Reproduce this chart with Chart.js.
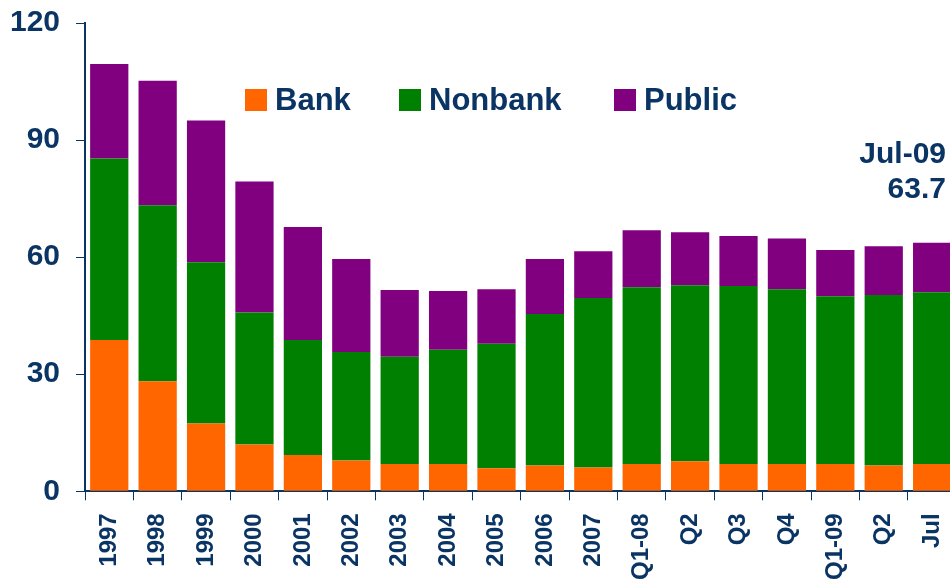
<!DOCTYPE html>
<html>
<head>
<meta charset="utf-8">
<script src="https://cdn.jsdelivr.net/npm/chart.js@4"></script>
<style>
html, body { margin: 0; padding: 0; overflow: hidden; background: #fff; }
#wrap { width: 980px; height: 604px; margin-top: -11px; margin-left: -6px; }
</style>
</head>
<body>
<div id="wrap"><canvas id="chart"></canvas></div>
<script>
var labels = ["1997", "1998", "1999", "2000", "2001", "2002", "2003", "2004", "2005", "2006", "2007",
    "Q1-08", "Q2", "Q3", "Q4", "Q1-09", "Q2", "Jul"];
var bank = [38.8, 28.2, 17.4, 12.0, 9.3, 7.9, 7.0, 7.0, 5.9, 6.6, 6.1, 7.0, 7.7, 7.0, 7.0, 7.0, 6.6, 7.0];
var nonbank = [46.5, 45.1, 41.3, 33.8, 29.5, 27.8, 27.5, 29.3, 31.9, 38.8, 43.4, 45.3, 45.1, 45.6, 44.8, 43.0, 43.7, 44.0];
var publicDebt = [24.2, 31.9, 36.3, 33.6, 28.9, 23.8, 17.1, 15.0, 14.0, 14.1, 12.0, 14.6, 13.6, 12.8, 13.0, 11.8, 12.5, 12.7];
var yTicks = [0, 30, 60, 90, 120];
var noteLines = ["Jul-09", "63.7"];

var navy = "#0a3464";
var fontFamily = "'Liberation Sans', Arial, sans-serif";

// legend and note drawn by hand so they sit inside the plot
// (the wrapper shifts the canvas 6px left and 11px up, add that back)
var extrasPlugin = {
    id: "extras",
    afterDraw: function (chart) {
        var ctx = chart.ctx;
        var dx = 6, dy = 11;
        ctx.save();
        ctx.font = "bold 31px " + fontFamily;
        ctx.textBaseline = "middle";
        var xs = [245, 399, 614];
        chart.data.datasets.forEach(function (ds, i) {
            ctx.fillStyle = ds.backgroundColor;
            ctx.fillRect(xs[i] + dx, 89 + dy, 22, 22);
            ctx.fillStyle = navy;
            ctx.textAlign = "left";
            ctx.fillText(ds.label, xs[i] + 30 + dx, 101 + dy);
        });
        ctx.font = "bold 30px " + fontFamily;
        ctx.textAlign = "right";
        ctx.fillText(noteLines[0], 946 + dx, 155 + dy);
        ctx.fillText(noteLines[1], 946 + dx, 190 + dy);
        ctx.restore();
    }
};

new Chart(document.getElementById("chart"), {
    type: "bar",
    data: {
        labels: labels,
        datasets: [
            { label: "Bank", data: bank, backgroundColor: "#ff6600" },
            { label: "Nonbank", data: nonbank, backgroundColor: "#008000" },
            { label: "Public", data: publicDebt, backgroundColor: "#800080" }
        ]
    },
    options: {
        responsive: true,
        maintainAspectRatio: false,
        animation: false,
        datasets: {
            bar: { barPercentage: 0.79, categoryPercentage: 1.0 }
        },
        layout: { padding: { left: 0, top: 6, right: 2, bottom: 0 } },
        plugins: {
            legend: { display: false },
            tooltip: { enabled: false }
        },
        scales: {
            x: {
                stacked: true,
                border: { display: true, color: navy, width: 2 },
                grid: { display: true, drawOnChartArea: false, color: navy, tickLength: 9, offset: true },
                ticks: {
                    color: navy,
                    font: { family: fontFamily, size: 24, weight: "bold" },
                    minRotation: 90,
                    maxRotation: 90,
                    padding: 13,
                    autoSkip: false
                }
            },
            y: {
                stacked: true,
                min: 0,
                max: 120,
                afterBuildTicks: function (axis) {
                    axis.ticks = yTicks.map(function (v) { return { value: v }; });
                },
                border: { display: true, color: navy, width: 2 },
                grid: { display: true, drawOnChartArea: false, color: navy, tickLength: 9 },
                ticks: {
                    color: navy,
                    font: { family: fontFamily, size: 30, weight: "bold" },
                    padding: 16
                }
            }
        }
    },
    plugins: [extrasPlugin]
});
</script>
</body>
</html>
